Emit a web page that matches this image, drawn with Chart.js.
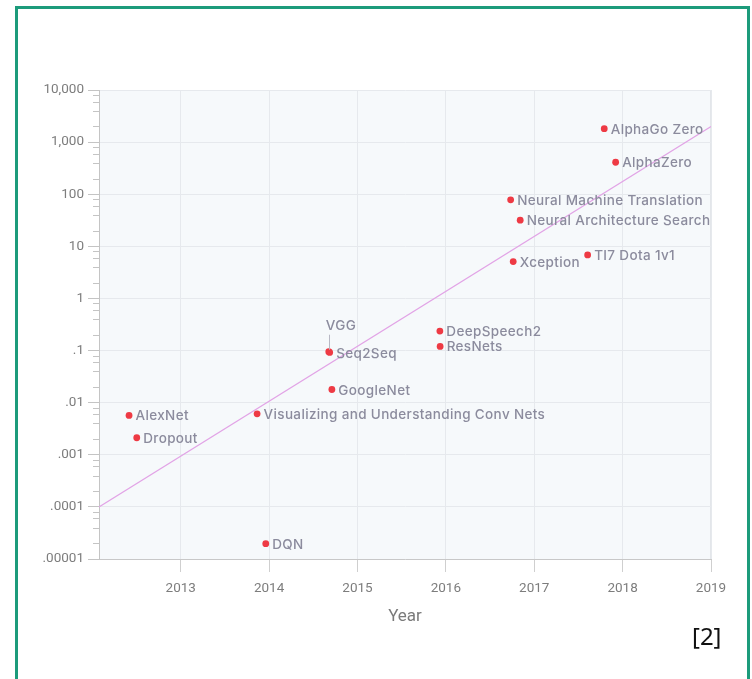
<!DOCTYPE html>
<html>
<head>
<meta charset="utf-8">
<script src="https://cdn.jsdelivr.net/npm/chart.js@4.4.1/dist/chart.umd.min.js"></script>
<style>
  html, body { margin: 0; padding: 0; background: #ffffff; width: 752px; height: 679px; overflow: hidden; }
  #frame { position: absolute; left: 15px; top: 6px; width: 729px; height: 700px; border: 3px solid #1c9b7b; box-sizing: content-box; }
  #wrap { position: absolute; left: 0; top: 0; width: 752px; height: 679px; }
  #cite { position: absolute; left: 692px; top: 620px; font-family: "Noto Sans", "Open Sans", sans-serif; font-size: 24px; color: #111; line-height: 32px; }
</style>
</head>
<body>
<div id="frame"></div>
<div id="wrap"><canvas id="c" width="752" height="679"></canvas></div>
<div id="cite">[2]</div>
<script>
// ---- data ----
const names = ['AlexNet', 'Dropout', 'Visualizing and Understanding Conv Nets', 'DQN', 'VGG', 'Seq2Seq',
  'GoogleNet', 'DeepSpeech2', 'ResNets', 'Xception', 'Neural Machine Translation',
  'Neural Architecture Search', 'TI7 Dota 1v1', 'AlphaGo Zero', 'AlphaZero'];
const years = [2012.415, 2012.502, 2013.864, 2013.962, 2014.675, 2014.685,
  2014.71, 2015.932, 2015.935, 2016.762, 2016.733,
  2016.841, 2017.604, 2017.792, 2017.921];
const compute = [0.0057, 0.00212, 0.0061, 0.0000197, 0.095, 0.092,
  0.0179, 0.236, 0.12, 5.1, 78,
  31.7, 6.85, 1810, 411];
const trendYears = [2012.075, 2019];
const trendValues = [0.0001, 2000];
const xTickYears = [2013, 2014, 2015, 2016, 2017, 2018, 2019];
const yTickValues = [10000, 1000, 100, 10, 1, 0.1, 0.01, 0.001, 0.0001, 0.00001];
const yTickLabels = ['10,000', '1,000', '100', '10', '1', '.1', '.01', '.001', '.0001', '.00001'];
const minorMultipliers = [2, 4, 6, 8];

const LABEL_COLOR = '#8b8b9d';
const TICK_COLOR = '#7d7d7d';

const bgPlugin = {
  id: 'bg',
  beforeDraw(chart) {
    const {ctx, chartArea: a} = chart;
    ctx.save();
    ctx.fillStyle = '#f6f9fb';
    ctx.fillRect(a.left, a.top, a.right - a.left, a.bottom - a.top);
    ctx.strokeStyle = '#e3e6ea';
    ctx.lineWidth = 1;
    ctx.beginPath();
    ctx.moveTo(a.right - 0.5, a.top);
    ctx.lineTo(a.right - 0.5, a.bottom);
    ctx.stroke();
    ctx.restore();
  }
};

const minorTicks = {
  id: 'minorTicks',
  afterDraw(chart) {
    const {ctx, scales: {y}, chartArea: a} = chart;
    ctx.save();
    ctx.strokeStyle = '#c4c4c4';
    ctx.lineWidth = 1;
    for (let e = -5; e < 4; e++) {
      for (const m of minorMultipliers) {
        const v = m * Math.pow(10, e);
        const py = Math.round(y.getPixelForValue(v)) + 0.5;
        ctx.beginPath();
        ctx.moveTo(a.left - 6, py);
        ctx.lineTo(a.left, py);
        ctx.stroke();
      }
    }
    ctx.restore();
  }
};

const labelPlugin = {
  id: 'pointLabels',
  afterDatasetsDraw(chart) {
    const {ctx} = chart;
    const meta = chart.getDatasetMeta(1);
    ctx.save();
    ctx.font = '500 13.5px Inter, "Noto Sans", sans-serif';
    if ('letterSpacing' in ctx) ctx.letterSpacing = '0.35px';
    ctx.fillStyle = LABEL_COLOR;
    ctx.textBaseline = 'middle';
    ctx.textAlign = 'left';
    meta.data.forEach((pt, i) => {
      const name = names[i];
      if (name === 'VGG') {
        ctx.strokeStyle = '#b8b8c4';
        ctx.lineWidth = 1;
        ctx.beginPath();
        ctx.moveTo(Math.round(pt.x) + 0.5, pt.y - 2);
        ctx.lineTo(Math.round(pt.x) + 0.5, pt.y - 17);
        ctx.stroke();
        ctx.fillText(name, pt.x - 3, pt.y - 26);
      } else {
        ctx.fillText(name, pt.x + 6.5, pt.y + 1);
      }
    });
    ctx.restore();
  }
};

new Chart(document.getElementById('c'), {
  type: 'scatter',
  data: {
    datasets: [
      {
        type: 'line',
        data: trendYears.map((x, i) => ({x, y: trendValues[i]})),
        borderColor: '#e2a4e6',
        borderWidth: 1.2,
        pointRadius: 0,
        fill: false,
        order: 2
      },
      {
        data: years.map((x, i) => ({x, y: compute[i]})),
        backgroundColor: '#ee3a44',
        borderColor: '#ee3a44',
        borderWidth: 0,
        pointRadius: 3.4,
        order: 1
      }
    ]
  },
  plugins: [bgPlugin, minorTicks, labelPlugin],
  options: {
    responsive: false,
    animation: false,
    layout: { padding: { left: 0, right: 41, top: 90, bottom: 40 } },
    plugins: { legend: { display: false }, tooltip: { enabled: false } },
    scales: {
      x: {
        type: 'linear',
        min: trendYears[0],
        max: 2019,
        afterBuildTicks(scale) { scale.ticks = xTickYears.map(v => ({value: v})); },
        afterFit(scale) { scale.height = 80; },
        ticks: {
          color: TICK_COLOR,
          font: { family: 'Roboto, "Noto Sans", sans-serif', size: 13.5 },
          padding: 9,
          maxRotation: 0,
          callback: v => String(v)
        },
        grid: { color: '#e6e9ed', tickColor: '#cfcfcf', tickLength: 13, lineWidth: 1 },
        border: { color: '#c8c8c8' },
        title: {
          display: true,
          text: 'Year',
          color: '#7a7a7a',
          font: { family: 'Roboto, "Noto Sans", sans-serif', size: 17 },
          padding: { top: 0, bottom: 12 }
        }
      },
      y: {
        type: 'logarithmic',
        min: 0.00001,
        max: 10000,
        afterBuildTicks(scale) { scale.ticks = yTickValues.map(v => ({value: v, major: true})); },
        afterFit(scale) { scale.width = 99; },
        ticks: {
          color: TICK_COLOR,
          font: { family: 'Roboto, "Noto Sans", sans-serif', size: 13.5 },
          padding: 4,
          autoSkip: false,
          callback: (v) => {
            const idx = yTickValues.findIndex(t => Math.abs(Math.log10(t) - Math.log10(v)) < 1e-6);
            return idx >= 0 ? yTickLabels[idx] : '';
          }
        },
        grid: { color: '#e6e9ed', tickColor: '#c4c4c4', tickLength: 11, lineWidth: 1 },
        border: { color: '#c4c4c4' }
      }
    }
  }
});
</script>
</body>
</html>
